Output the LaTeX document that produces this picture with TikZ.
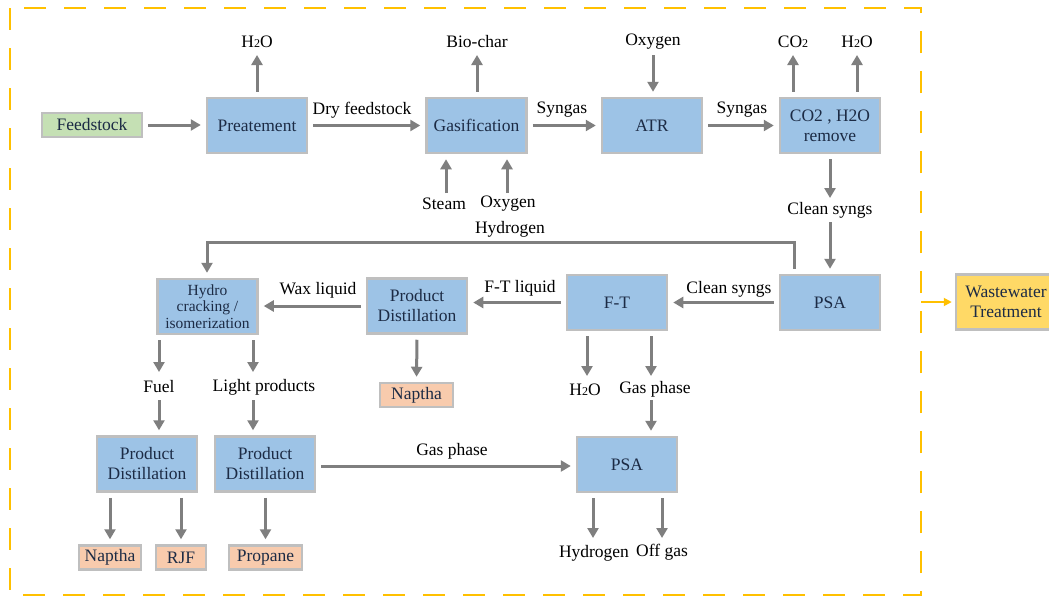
\documentclass[tikz,border=0pt]{standalone}
\usepackage{fontspec}
\setmainfont{Liberation Serif}
\usetikzlibrary{arrows.meta}
\definecolor{boxblue}{HTML}{9DC3E6}
\definecolor{boxline}{HTML}{BFBFBF}
\definecolor{arrgray}{HTML}{7F7F7F}
\definecolor{feedgreen}{HTML}{C5E0B4}
\definecolor{prodorange}{HTML}{F8CBAD}
\definecolor{dashyellow}{HTML}{FFC000}
\definecolor{wwfill}{HTML}{FFD966}
\definecolor{boxtext}{HTML}{1C2B45}
\newcommand{\sub}[1]{{\fontsize{12}{12}\selectfont #1}}
\begin{document}
\begin{tikzpicture}[x=1pt,y=-1pt,
  proc/.style={draw=boxline, line width=2.5pt, fill=boxblue, minimum width=100pt, minimum height=55pt,
    inner sep=0pt, align=center, text=boxtext, font=\fontsize{17.5}{20}\selectfont},
  feedbox/.style={proc, fill=feedgreen, minimum height=24pt},
  prodbox/.style={proc, fill=prodorange, minimum height=24pt},
  lab/.style={font=\fontsize{17.5}{20}\selectfont, inner sep=0pt, text=black},
  arr/.style={draw=arrgray, line width=3pt, -{Triangle[length=10pt,width=11pt]}},
  sb/.style={shorten <=5pt},
  se/.style={shorten >=5pt}]
\path[use as bounding box, clip] (0,0) rectangle (1049,597);
\fill[white] (0,0) rectangle (1049,597);

% dashed frame
\draw[dashyellow, line width=2pt, dash pattern=on 22pt off 18pt] (10,8) rectangle (921,595);

% boxes
\node[feedbox] (feed) at (92,125) {Feedstock};
\node[proc] (pre) at (257,125.5) {Preatement};
\node[proc] (gas) at (476.5,125.5) {Gasification};
\node[proc] (atr) at (652,125.5) {ATR};
\node[proc] (rem) at (830,125.5) {CO2 , H2O\\remove};
\node[proc] (psaA) at (830,302.5) {PSA};
\node[proc] (ft) at (617,302.5) {F-T};
\node[proc] (pdA) at (417,306) {Product\\Distillation};
\node[prodbox, minimum width=73pt] (napA) at (416.5,395) {Naptha};
\node[proc, font=\fontsize{15.5}{16.5}\selectfont] (hyd) at (207.5,306.5) {Hydro\\cracking /\\isomerization};
\node[proc] (pdB) at (147,464) {Product\\Distillation};
\node[proc] (pdC) at (265,464) {Product\\Distillation};
\node[prodbox, minimum width=62pt] (napB) at (110,557.5) {Naptha};
\node[prodbox, minimum width=50pt] (rjf) at (181,557.5) {RJF};
\node[prodbox, minimum width=73pt] (prop) at (265.5,557.5) {Propane};
\node[proc] (psaB) at (627,464.5) {PSA};
\node[proc, fill=wwfill] (ww) at (1006,302) {Wastewater\\Treatment};

% coordinates for free ends
\coordinate (c1) at (257,55);
\coordinate (c2) at (477,55);
\coordinate (c3) at (446,193);
\coordinate (c4) at (507,193);
\coordinate (c5) at (653,55);
\coordinate (c6) at (793,55);
\coordinate (c7) at (857,55);
\coordinate (c8) at (830,198);
\coordinate (c9) at (830,222);
\coordinate (hy1) at (794,242);
\coordinate (hy2) at (207,242);
\coordinate (c10) at (587,376);
\coordinate (c11) at (651,376);
\coordinate (c12) at (651,400);
\coordinate (c13) at (159,372);
\coordinate (c14) at (159,400);
\coordinate (c15) at (253,372);
\coordinate (c16) at (253,400);
\coordinate (c18) at (593,538);
\coordinate (c19) at (662,538);
\coordinate (w0) at (921,302);

% top row
\draw[arr,sb,se] (feed.east) -- (pre.west |- feed.east);
\draw[arr,sb,se] (pre.east) -- (gas.west);
\draw[arr,sb,se] (gas.east) -- (atr.west);
\draw[arr,sb,se] (atr.east) -- (rem.west);
\draw[arr,sb] (pre.north) -- (c1);
\draw[arr,sb] (gas.north -| c2) -- (c2);
\draw[arr,se] (c3) -- (c3 |- gas.south);
\draw[arr,se] (c4) -- (c4 |- gas.south);
\draw[arr,se] (c5) -- (atr.north -| c5);
\draw[arr,sb] (rem.north -| c6) -- (c6);
\draw[arr,sb] (rem.north -| c7) -- (c7);
\draw[arr,sb] (rem.south) -- (c8);
\draw[arr,se] (c9) -- (psaA.north);

% middle row
\draw[arr,sb,se] (psaA.north -| hy1) -- (hy1) -- (hy2) -- (hyd.north -| hy2);
\draw[arr,sb,se] (psaA.west) -- (ft.east);
\draw[arr,sb,se] (ft.west) -- (pdA.east |- ft.west);
\draw[arr,sb,se] (pdA.west) -- (hyd.east |- pdA.west);
\draw[arr,sb,se] (pdA.south) -- (napA.north);
\draw[arr,sb] (ft.south -| c10) -- (c10);
\draw[arr,sb] (ft.south -| c11) -- (c11);
\draw[arr,se] (c12) -- (psaB.north -| c12);
\draw[arr,sb] (hyd.south -| c13) -- (c13);
\draw[arr,se] (c14) -- (pdB.north -| c14);
\draw[arr,sb] (hyd.south -| c15) -- (c15);
\draw[arr,se] (c16) -- (pdC.north -| c16);

% bottom row
\draw[arr,sb,se] (napB.north |- pdB.south) -- (napB.north);
\draw[arr,sb,se] (rjf.north |- pdB.south) -- (rjf.north);
\draw[arr,sb,se] (prop.north |- pdC.south) -- (prop.north);
\draw[arr,sb,se] ([yshift=-2pt]pdC.east) -- ([yshift=-2pt]psaB.west |- pdC.east);
\draw[arr,sb] (psaB.south -| c18) -- (c18);
\draw[arr,sb] (psaB.south -| c19) -- (c19);

% wastewater arrow
\draw[dashyellow, line width=1.8pt, -{Triangle[length=8pt,width=8pt]}, shorten >=3pt] (w0) -- (ww.west |- w0);

% labels
\node[lab] (l1) at (257,42) {H\sub{2}O};
\node[lab] (l2) at (362,110) {Dry feedstock};
\node[lab] (l3) at (477,42) {Bio-char};
\node[lab] (l4) at (444,204) {Steam};
\node[lab] (l5) at (508,204) {Oxygen};
\node[lab] (l6) at (562,110) {Syngas};
\node[lab] (l7) at (653,42) {Oxygen};
\node[lab] (l8) at (742,110) {Syngas};
\node[lab] (l9) at (793,42) {CO\sub{2}};
\node[lab] (l10) at (857,42) {H\sub{2}O};
\node[lab] (l11) at (830,210) {Clean syngs};
\node[lab] (l12) at (510,229) {Hydrogen};
\node[lab] (l13) at (729,289) {Clean syngs};
\node[lab] (l14) at (520,288) {F-T liquid};
\node[lab] (l15) at (318,290) {Wax liquid};
\node[lab] (l16) at (585,390) {H\sub{2}O};
\node[lab] (l17) at (655,389) {Gas phase};
\node[lab] (l18) at (159,387) {Fuel};
\node[lab] (l19) at (264,387) {Light products};
\node[lab] (l20) at (452,451) {Gas phase};
\node[lab] (l21) at (594,553) {Hydrogen};
\node[lab] (l22) at (662,552) {Off gas};
\end{tikzpicture}
\end{document}
